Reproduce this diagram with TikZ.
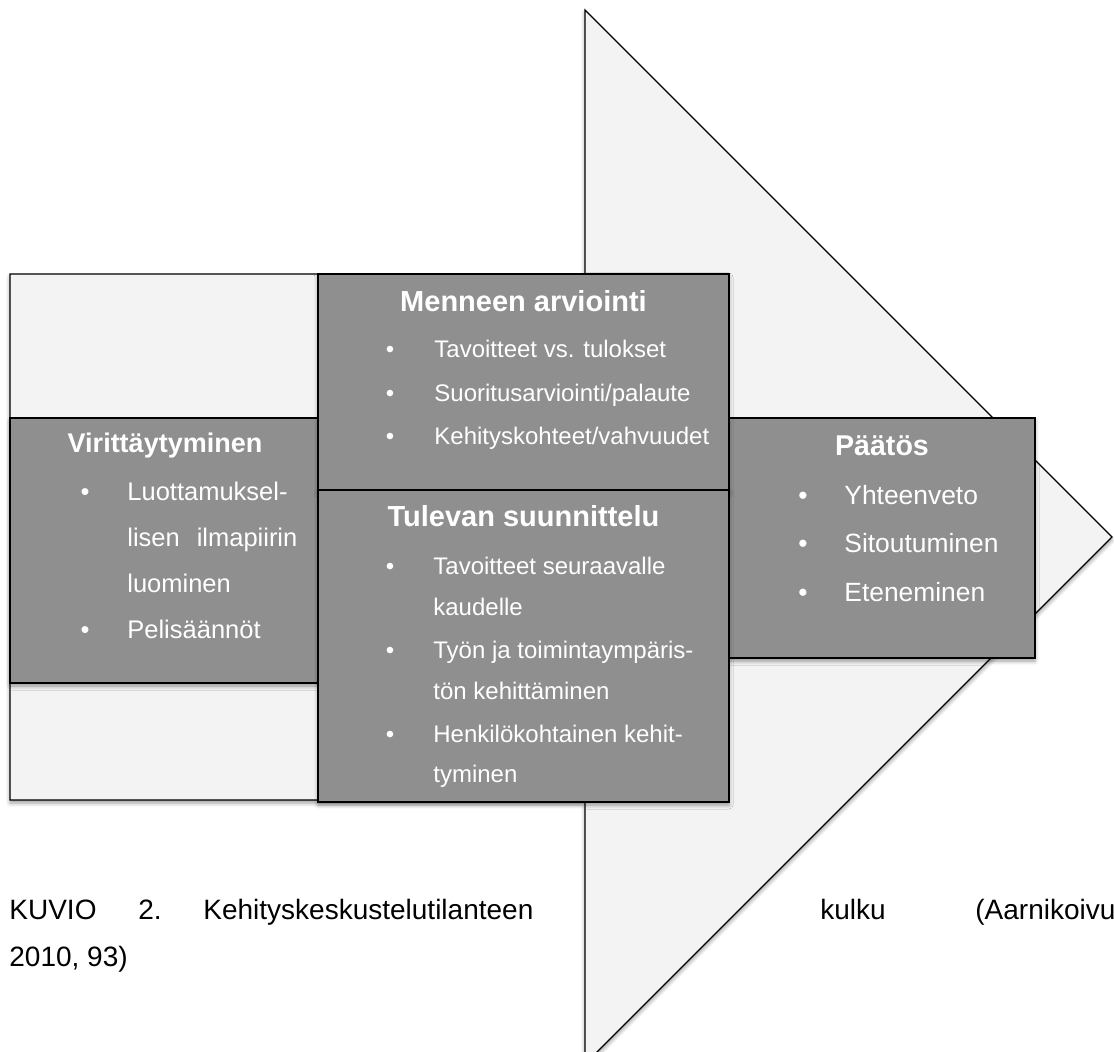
\documentclass[tikz,border=0pt]{standalone}
\usepackage{fontspec}
\setmainfont{Liberation Sans}
\usetikzlibrary{shadows.blur}
\definecolor{boxgray}{RGB}{143,143,143}
\definecolor{arrowfill}{RGB}{243,243,243}

\begin{document}
\begin{tikzpicture}[x=0.5pt, y=-0.5pt,
    softshadow/.style={blur shadow={shadow xshift=0pt, shadow yshift=-1.5pt, shadow blur radius=2pt, shadow opacity=40}},
    arrowbody/.style={draw, fill=arrowfill, line width=0.6pt, softshadow},
    phase/.style={rectangle, draw, fill=boxgray, line width=0.8pt, inner sep=0pt, outer sep=0pt, softshadow},
    heading/.style={text=white, inner sep=0pt, anchor=base, font=\bfseries\fontsize{14.5}{17}\selectfont},
    entry/.style={text=white, inner sep=0pt, anchor=base west},
    dot/.style={text=white, inner sep=0pt, anchor=base},
    caption/.style={inner sep=0pt, anchor=base west, font=\fontsize{14}{17}\selectfont}]
    \useasboundingbox (0,0) rectangle (1114,1052);

    % the big arrow
    \draw [arrowbody] (10,274) -- (585,274) -- (585,10) -- (1112,537) -- (585,1064) -- (585,800) -- (10,800) -- cycle;

    % boxes
    \node (tune) [phase, minimum width=154pt, minimum height=132.5pt] at (164,550.5) {};
    \node (decision) [phase, minimum width=153pt, minimum height=120pt] at (882,538) {};
    \node (past) [phase, minimum width=205.5pt, minimum height=108pt] at (523.5,382) {};
    \node (future) [phase, minimum width=205.5pt, minimum height=156pt] at (523.5,646) {};

    % Virittaytyminen
    \node (tuneT) [heading, font=\bfseries\fontsize{13.5}{16}\selectfont] at (165,453) {Virittäytyminen};
    \node (tuneB1) [dot, font=\fontsize{12.75}{15}\selectfont] at (85,501) {•};
    \node (tuneI1a) [entry, font=\fontsize{12.75}{15}\selectfont] at (127,501) {Luottamuksel-};
    \node (tuneI1b) [entry, font=\fontsize{12.75}{15}\selectfont] at (127,547) {\makebox[85pt][s]{lisen ilmapiirin}};
    \node (tuneI1c) [entry, font=\fontsize{12.75}{15}\selectfont] at (127,593) {luominen};
    \node (tuneB2) [dot, font=\fontsize{12.75}{15}\selectfont] at (85,639) {•};
    \node (tuneI2) [entry, font=\fontsize{12.75}{15}\selectfont] at (127,639) {Pelisäännöt};

    % Menneen arviointi
    \node (pastT) [heading] at (523.5,312) {Menneen arviointi};
    \node (pastB1) [dot, font=\fontsize{12}{14}\selectfont] at (390,358) {•};
    \node (pastI1) [entry, font=\fontsize{12}{14}\selectfont] at (434,358) {Tavoitteet vs. tulokset};
    \node (pastB2) [dot, font=\fontsize{12}{14}\selectfont] at (390,402) {•};
    \node (pastI2) [entry, font=\fontsize{12}{14}\selectfont] at (434,402) {Suoritusarviointi/palaute};
    \node (pastB3) [dot, font=\fontsize{12}{14}\selectfont] at (390,445) {•};
    \node (pastI3) [entry, font=\fontsize{12}{14}\selectfont] at (434,445) {Kehityskohteet/vahvuudet};

    % Tulevan suunnittelu
    \node (futureT) [heading] at (523.5,527) {Tulevan suunnittelu};
    \node (futureB1) [dot, font=\fontsize{12}{14}\selectfont] at (390,575) {•};
    \node (futureI1a) [entry, font=\fontsize{12}{14}\selectfont] at (433,575) {Tavoitteet seuraavalle};
    \node (futureI1b) [entry, font=\fontsize{12}{14}\selectfont] at (433,616) {kaudelle};
    \node (futureB2) [dot, font=\fontsize{12}{14}\selectfont] at (390,659) {•};
    \node (futureI2a) [entry, font=\fontsize{12}{14}\selectfont] at (433,659) {Työn ja toimintaympäris-};
    \node (futureI2b) [entry, font=\fontsize{12}{14}\selectfont] at (433,700) {tön kehittäminen};
    \node (futureB3) [dot, font=\fontsize{12}{14}\selectfont] at (390,743) {•};
    \node (futureI3a) [entry, font=\fontsize{12}{14}\selectfont] at (433,743) {Henkilökohtainen kehit-};
    \node (futureI3b) [entry, font=\fontsize{12}{14}\selectfont] at (433,783) {tyminen};

    % Paatos
    \node (decisionT) [heading, font=\bfseries\fontsize{14.3}{17}\selectfont] at (882,456) {Päätös};
    \node (decisionB1) [dot, font=\fontsize{13.2}{15}\selectfont] at (803,505) {•};
    \node (decisionI1) [entry, font=\fontsize{13.2}{15}\selectfont] at (844,505) {Yhteenveto};
    \node (decisionB2) [dot, font=\fontsize{13.2}{15}\selectfont] at (803,553) {•};
    \node (decisionI2) [entry, font=\fontsize{13.2}{15}\selectfont] at (844,553) {Sitoutuminen};
    \node (decisionB3) [dot, font=\fontsize{13.2}{15}\selectfont] at (803,602) {•};
    \node (decisionI3) [entry, font=\fontsize{13.2}{15}\selectfont] at (844,602) {Eteneminen};

    % caption
    \node (capA) [caption] at (9,920) {KUVIO};
    \node (capB) [caption] at (138,920) {2.};
    \node (capC) [caption] at (203,920) {Kehityskeskustelutilanteen};
    \node (capD) [caption] at (820,920) {kulku};
    \node (capE) [caption] at (975,920) {(Aarnikoivu};
    \node (capF) [caption] at (9,966) {2010, 93)};
\end{tikzpicture}
\end{document}
